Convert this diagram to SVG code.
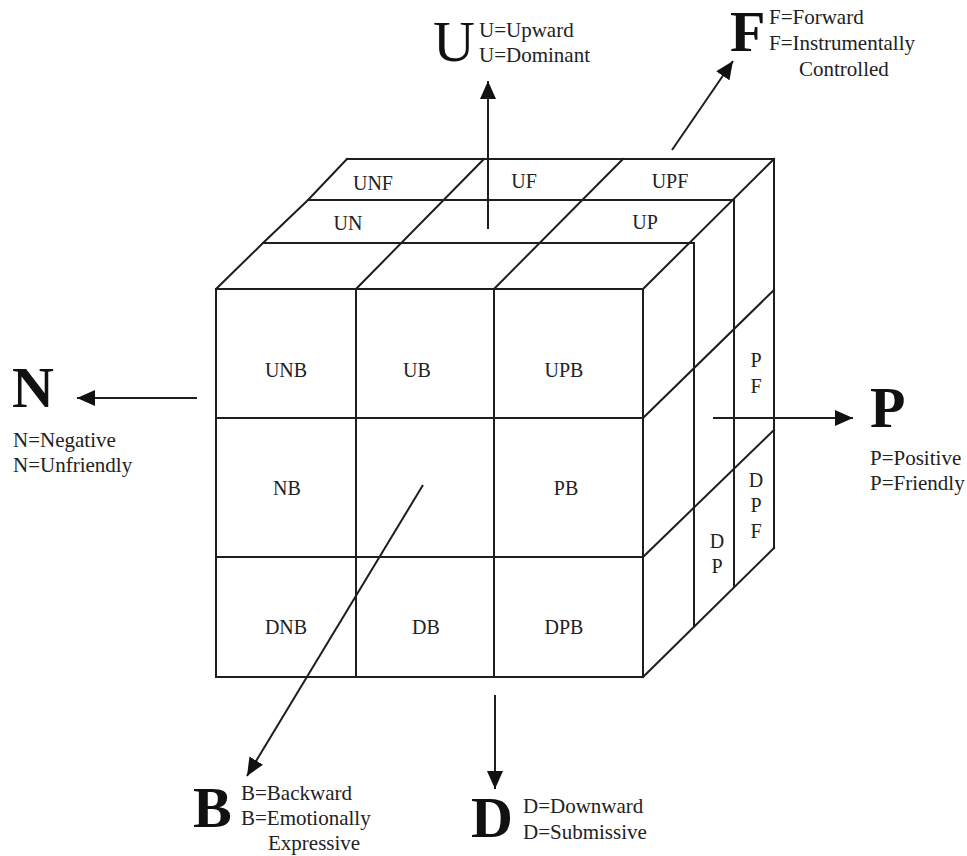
<svg xmlns="http://www.w3.org/2000/svg" width="967" height="856" viewBox="0 0 967 856">
<style>
.ln{stroke:#1e1e1e;stroke-width:2;fill:none;stroke-linecap:square}
.ax{stroke:#1e1e1e;stroke-width:2;fill:none}
.cell{font-family:"Liberation Serif","Times New Roman",serif;font-size:20px;fill:#222;text-anchor:middle}
.lab{font-family:"Liberation Serif","Times New Roman",serif;font-size:21px;fill:#222}
.big{font-family:"Liberation Serif","Times New Roman",serif;font-size:58px;font-weight:bold;fill:#111}
.bigr{font-family:"Liberation Serif","Times New Roman",serif;font-size:58px;fill:#111}
</style>
<defs>
<marker id="ah" viewBox="0 0 18 16" refX="18" refY="8" markerWidth="18" markerHeight="16" markerUnits="userSpaceOnUse" orient="auto">
<path d="M0,0 L18,8 L0,16 z" fill="#111"/>
</marker>
</defs>
<rect width="967" height="856" fill="#fff"/>
<g id="cube">
<rect class="ln" x="216" y="289" width="427" height="388"/>
<line class="ln" x1="356" y1="289" x2="356" y2="677"/>
<line class="ln" x1="494" y1="289" x2="494" y2="677"/>
<line class="ln" x1="216" y1="418" x2="643" y2="418"/>
<line class="ln" x1="216" y1="557" x2="643" y2="557"/>
<line class="ln" x1="347" y1="159" x2="774" y2="159"/>
<line class="ln" x1="308" y1="200" x2="734" y2="200"/>
<line class="ln" x1="263" y1="243" x2="694" y2="243"/>
<polyline class="ln" points="216,289 263,243 308,200 347,159"/>
<line class="ln" x1="356" y1="289" x2="484" y2="159"/>
<line class="ln" x1="494" y1="289" x2="623" y2="159"/>
<line class="ln" x1="643" y1="289" x2="774" y2="159"/>
<line class="ln" x1="694" y1="243" x2="694" y2="626"/>
<line class="ln" x1="734" y1="200" x2="734" y2="587"/>
<line class="ln" x1="774" y1="159" x2="774" y2="548"/>
<line class="ln" x1="643" y1="418" x2="774" y2="290"/>
<line class="ln" x1="643" y1="557" x2="774" y2="430"/>
<line class="ln" x1="643" y1="677" x2="774" y2="548"/>
</g>
<g id="cell-labels">
<text class="cell" x="373" y="190">UNF</text>
<text class="cell" x="524" y="188">UF</text>
<text class="cell" x="670" y="188">UPF</text>
<text class="cell" x="348" y="230">UN</text>
<text class="cell" x="645" y="229">UP</text>
<text class="cell" x="286" y="377">UNB</text>
<text class="cell" x="417" y="377">UB</text>
<text class="cell" x="564" y="377">UPB</text>
<text class="cell" x="287" y="495">NB</text>
<text class="cell" x="566" y="495">PB</text>
<text class="cell" x="286" y="634">DNB</text>
<text class="cell" x="426" y="634">DB</text>
<text class="cell" x="564" y="634">DPB</text>
<text class="cell" x="756" y="367">P</text>
<text class="cell" x="756" y="393">F</text>
<text class="cell" x="756" y="487">D</text>
<text class="cell" x="756" y="512">P</text>
<text class="cell" x="756" y="538">F</text>
<text class="cell" x="717" y="548">D</text>
<text class="cell" x="717" y="573">P</text>
</g>
<g id="connectors">
<line class="ax" x1="488" y1="229" x2="488" y2="81" marker-end="url(#ah)"/>
<line class="ax" x1="672" y1="150" x2="733" y2="61" marker-end="url(#ah)"/>
<line class="ax" x1="197" y1="398" x2="77" y2="398" marker-end="url(#ah)"/>
<line class="ax" x1="713" y1="418" x2="853" y2="418" marker-end="url(#ah)"/>
<line class="ax" x1="423" y1="485" x2="247" y2="776" marker-end="url(#ah)"/>
<line class="ax" x1="495" y1="695" x2="495" y2="789" marker-end="url(#ah)"/>
</g>
<g id="node-U">
<text class="bigr" x="433" y="61">U</text>
<text class="lab" x="479" y="37">U=Upward</text>
<text class="lab" x="479" y="62">U=Dominant</text>
</g>
<g id="node-F">
<text class="big" x="730" y="51">F</text>
<text class="lab" x="769" y="24">F=Forward</text>
<text class="lab" x="769" y="50">F=Instrumentally</text>
<text class="lab" x="799" y="76">Controlled</text>
</g>
<g id="node-N">
<text class="big" x="12" y="407">N</text>
<text class="lab" x="13" y="447">N=Negative</text>
<text class="lab" x="13" y="472">N=Unfriendly</text>
</g>
<g id="node-P">
<text class="big" x="870" y="427">P</text>
<text class="lab" x="870" y="465">P=Positive</text>
<text class="lab" x="870" y="490">P=Friendly</text>
</g>
<g id="node-B">
<text class="big" x="193" y="827">B</text>
<text class="lab" x="241" y="800">B=Backward</text>
<text class="lab" x="241" y="825">B=Emotionally</text>
<text class="lab" x="268" y="850">Expressive</text>
</g>
<g id="node-D">
<text class="big" x="471" y="837">D</text>
<text class="lab" x="523" y="813">D=Downward</text>
<text class="lab" x="523" y="839">D=Submissive</text>
</g>
</svg>
